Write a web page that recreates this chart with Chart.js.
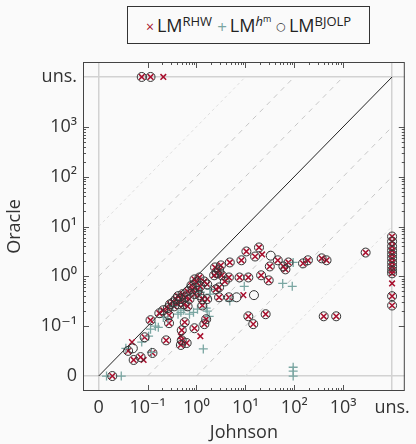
<!DOCTYPE html>
<html>
<head>
<meta charset="utf-8">
<script src="https://cdn.jsdelivr.net/npm/chart.js@4.4.1/dist/chart.umd.min.js"></script>
<style>
  html, body { margin: 0; padding: 0; background: #fafafa; }
  #wrap { position: relative; width: 416px; height: 444px; }
  #legend {
    position: absolute; left: 127px; top: 6px; width: 243px; height: 38px;
    box-sizing: border-box; border: 1px solid #333; background: #fafafa;
    display: flex; align-items: center; justify-content: center;
    font-family: 'Open Sans', 'DejaVu Sans', sans-serif; font-size: 18px; color: #222;
    white-space: nowrap;
  }
  #legend .m { font-size: 14px; margin: 0 3px 0 0; position: relative; top: 1px; }
  #legend .t { margin-right: 5px; }
  #legend sup { font-size: 13px; vertical-align: 6px; line-height: 0; }
  #legend sup sup { font-size: 9px; vertical-align: 4px; }
</style>
</head>
<body>
<div id="wrap">
  <canvas id="c" width="416" height="444"></canvas>
  <div id="legend">
    <span class="m" style="color:#a8102e">×</span><span class="t">LM<sup>RHW</sup></span>
    <span class="m" style="color:#7aa6a2;font-size:17px">+</span><span class="t">LM<sup><i>h</i><sup>m</sup></sup></span>
    <span class="m" style="color:#333;font-size:11px;top:0">○</span><span class="t" style="margin-right:0">LM<sup>BJOLP</sup></span>
  </div>
</div>
<script>
// ---- data (seconds); 0 = zero time, U = unsolved ("uns.") ----
const U = Infinity;

// instances where LM^RHW and LM^BJOLP coincide
const sharedJohnson = [0.019,0.040,0.052,0.072,0.087,0.126,0.115,0.174,0.209,0.275,
  0.275,0.240,0.50,0.575,0.50,0.63,0.91,1.45,1.58,0.48,
  0.288,0.33,0.38,0.35,0.42,0.48,0.52,0.60,0.66,0.55,
  0.72,0.83,0.91,0.79,1.0,1.05,0.42,0.26,0.66,1.2,
  1.15,1.32,1.66,0.91,1.15,1.45,1.66,1.32,2.4,2.9,
  2.6,3.16,2.3,3.3,4.8,8.3,4.6,7.6,11.5,3.8,
  2.9,2.5,2.9,4.6,10.5,19,15.8,31.6,46,60,
  76,66,151,190,363,457,2880,21,30,11.5,
  14.5,26,400,720,
  U,U,U,U,U,U,U,U,U,U,U,U,
  0.076,0.115];
const sharedOracle = [0,0.032,0.021,0.024,0.060,0.029,0.132,0.182,0.209,0.166,
  0.115,0.052,0.083,0.120,0.052,0.046,0.091,0.110,0.138,0.042,
  0.275,0.30,0.35,0.25,0.40,0.35,0.44,0.38,0.50,0.275,
  0.35,0.55,0.44,0.66,0.76,0.52,0.275,0.23,0.25,0.63,
  0.42,0.35,0.35,0.87,0.95,0.79,0.69,0.26,1.51,1.32,
  1.15,1.66,1.05,1.05,1.9,2.1,0.95,0.95,0.95,0.79,
  0.60,0.55,0.38,0.38,3.16,3.8,2.5,1.58,2.1,1.58,
  1.9,1.38,1.82,2.1,2.3,2.1,3.0,1.05,0.83,0.158,
  0.110,0.174,0.158,0.158,
  6.3,5.0,4.0,3.3,2.75,2.3,1.9,1.58,1.32,1.15,0.40,0.26,
  U,U];

const rhwOnlyJohnson = [0.21, 0.048, 0.083, 1.2, 22, 9.1, U, 0.48];
const rhwOnlyOracle  = [U, 0.048, 0.021, 0.063, 2.75, 0.42, 0.72, 0.063];

const bjolpOnlyJohnson = [0.050, 33, 6.6, 15];
const bjolpOnlyOracle  = [0.036, 2.6, 0.38, 0.42];

const hmJohnson = [0.0145,0.029,0.036,0.076,0.105,0.115,0.12,0.145,0.166,0.48,
  0.72,0.55,0.87,1.05,1.38,1.66,1.82,1.58,1.9,1.9,
  4.8,9.5,58,91,95,95,95,95,1.2,0.33,0.21,0.42,0.26];
const hmOracle = [0,0,0.036,0.048,0.063,0.087,0.030,0.10,0.095,0.19,
  0.174,0.21,0.19,0.22,0.035,0.20,0.158,0.23,0.55,0.44,
  0.32,0.63,0.72,0.63,1.9,0.015,0.0126,0,0.48,0.25,0.15,0.174,0.138];

const rhwJohnson = sharedJohnson.concat(rhwOnlyJohnson);
const rhwOracle  = sharedOracle.concat(rhwOnlyOracle);
const bjolpJohnson = sharedJohnson.concat(bjolpOnlyJohnson);
const bjolpOracle  = sharedOracle.concat(bjolpOnlyOracle);

const tickValues = [0, 0.1, 1, 10, 100, 1000, U];
const tickLabels = ['0', '10\u207B\u00B9', '10\u2070', '10\u00B9', '10\u00B2', '10\u00B3', 'uns.'];
const ratioDecades = [3, 2, 1, -1, -2, -3];   // dashed guide lines: oracle = johnson * 10^k

// ---- axis transform: log10, with 0 and "uns." placed one decade beyond ----
const ZERO_POS = -2, UNS_POS = 4;
const pos = v => v === 0 ? ZERO_POS : (v === U ? UNS_POS : Math.log10(v));
const toPoints = (xs, ys) => xs.map((v, i) => ({ x: pos(v), y: pos(ys[i]) }));
const tickPos = tickValues.map(pos);
const labelFor = p => { const i = tickPos.findIndex(t => Math.abs(t - p) < 1e-9); return i >= 0 ? tickLabels[i] : ''; };

const FONT = "'Open Sans', 'DejaVu Sans', sans-serif";

// guide lines
const guideSets = ratioDecades.map(k => {
  const pts = k > 0
    ? [{ x: ZERO_POS, y: ZERO_POS + k }, { x: UNS_POS - k, y: UNS_POS }]
    : [{ x: ZERO_POS - k, y: ZERO_POS }, { x: UNS_POS, y: UNS_POS + k }];
  const far = Math.abs(k) === 3;
  return {
    type: 'line', data: pts, borderColor: far ? '#dedede' : '#c6c6c6',
    borderWidth: 1, borderDash: far ? [3, 3] : [5, 5], pointRadius: 0, order: 10
  };
});
const diagonal = {
  type: 'line', data: [{ x: ZERO_POS, y: ZERO_POS }, { x: UNS_POS, y: UNS_POS }],
  borderColor: '#222', borderWidth: 1, pointRadius: 0, order: 9
};

const framePlugin = {
  id: 'frame',
  afterDraw(chart) {
    const { ctx, chartArea: a, scales: { x, y } } = chart;
    ctx.save();
    ctx.strokeStyle = '#555';
    ctx.lineWidth = 1;
    const majors = [-1, 0, 1, 2, 3];
    const minors = [];
    for (let d = -1; d < 3; d++) for (let k = 2; k <= 9; k++) minors.push(d + Math.log10(k));
    ctx.beginPath();
    const addX = (p, len) => {
      const px = Math.round(x.getPixelForValue(p)) + 0.5;
      ctx.moveTo(px, a.bottom); ctx.lineTo(px, a.bottom - len);
      ctx.moveTo(px, a.top); ctx.lineTo(px, a.top + len);
    };
    const addY = (p, len) => {
      const py = Math.round(y.getPixelForValue(p)) + 0.5;
      ctx.moveTo(a.left, py); ctx.lineTo(a.left + len, py);
      ctx.moveTo(a.right, py); ctx.lineTo(a.right - len, py);
    };
    majors.forEach(p => { addX(p, 6); addY(p, 6); });
    minors.forEach(p => { addX(p, 3); addY(p, 3); });
    ctx.stroke();
    ctx.strokeStyle = '#444';
    ctx.strokeRect(a.left + 0.5, a.top + 0.5, a.right - a.left - 1, a.bottom - a.top - 1);
    ctx.restore();
  }
};

const gridColor = ctx => (ctx.tick && (ctx.tick.value === ZERO_POS || ctx.tick.value === UNS_POS)) ? '#d2d2d2' : 'rgba(0,0,0,0)';

new Chart(document.getElementById('c'), {
  type: 'scatter',
  data: {
    datasets: [
      ...guideSets, diagonal,
      { label: 'LM RHW', data: toPoints(rhwJohnson, rhwOracle), pointStyle: 'crossRot',
        pointRadius: 4, borderColor: '#a8102e', borderWidth: 1.5, backgroundColor: '#a8102e', order: 3 },
      { label: 'LM hm', data: toPoints(hmJohnson, hmOracle), pointStyle: 'cross',
        pointRadius: 4.5, borderColor: '#7aa6a2', borderWidth: 1.3, backgroundColor: '#7aa6a2', order: 2 },
      { label: 'LM BJOLP', data: toPoints(bjolpJohnson, bjolpOracle), pointStyle: 'circle',
        pointRadius: 4.5, borderColor: '#333', borderWidth: 1, backgroundColor: 'rgba(0,0,0,0)', order: 1 }
    ]
  },
  options: {
    responsive: false, animation: false, devicePixelRatio: 1,
    layout: { padding: { top: 62, right: 4, left: 0, bottom: 0 } },
    plugins: { legend: { display: false }, tooltip: { enabled: false } },
    scales: {
      x: {
        type: 'linear', min: -2.32, max: 4.26,
        afterBuildTicks: s => { s.ticks = tickPos.map(v => ({ value: v })); },
        afterFit: s => { s.height = 53; },
        ticks: { callback: v => labelFor(v), font: { family: FONT, size: 18 }, color: '#333', padding: 6, maxRotation: 0, autoSkip: false },
        grid: { color: gridColor, lineWidth: 1.5, drawTicks: false },
        border: { display: false },
        title: { display: true, text: 'Johnson', font: { family: FONT, size: 18 }, color: '#333', padding: { top: 0, bottom: 0 } }
      },
      y: {
        type: 'linear', min: -2.3, max: 4.3,
        afterBuildTicks: s => { s.ticks = tickPos.map(v => ({ value: v })); },
        afterFit: s => { s.width = 83; },
        ticks: { callback: v => labelFor(v), font: { family: FONT, size: 18 }, color: '#333', padding: 6, autoSkip: false },
        grid: { color: gridColor, lineWidth: 1.5, drawTicks: false },
        border: { display: false },
        title: { display: true, text: 'Oracle', font: { family: FONT, size: 18 }, color: '#333', padding: { top: 4, bottom: 0 } }
      }
    }
  },
  plugins: [framePlugin]
});
</script>
</body>
</html>
